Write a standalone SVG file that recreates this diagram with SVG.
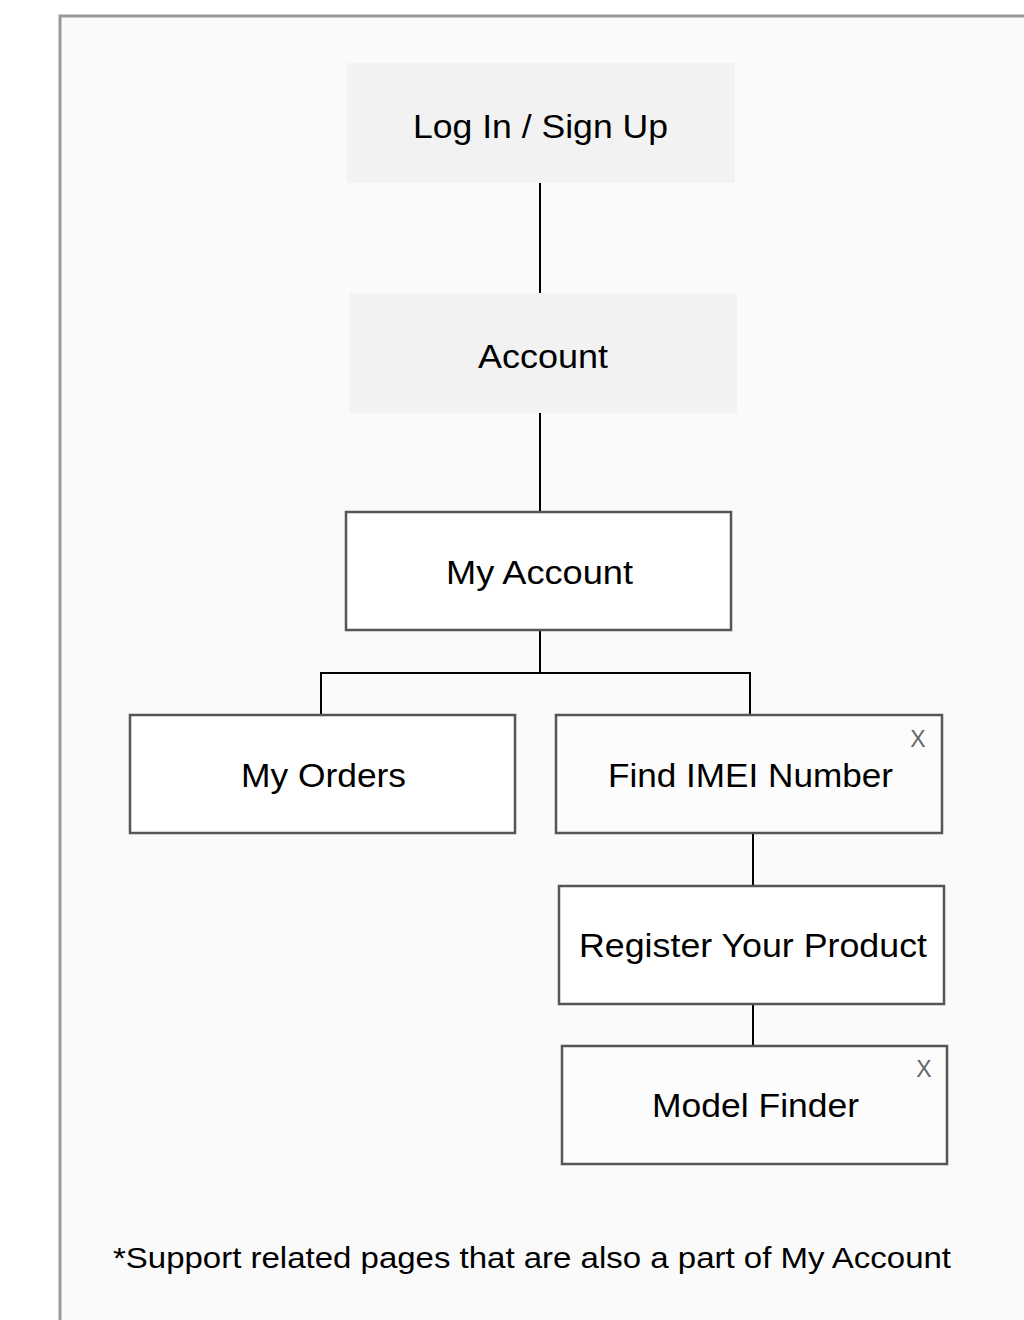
<svg xmlns="http://www.w3.org/2000/svg" width="1024" height="1320" viewBox="0 0 1024 1320">
<style>
text{font-family:"Liberation Sans",Arial,Helvetica,sans-serif;fill:#000}
.lbl{font-size:34px;text-anchor:middle}
.x{font-size:23px;fill:#666;text-anchor:middle}
.grey{fill:#f2f2f2;stroke:none}
.box{fill:#fff;stroke:#555;stroke-width:2.5}
.wire{stroke:#000;stroke-width:2;fill:none}
</style>
<rect width="1024" height="1320" fill="#fff"/>
<rect x="60" y="16" width="1000" height="1340" fill="#fafafa" stroke="#999" stroke-width="3"/>
<g id="connectors">
<line class="wire" x1="540" y1="183" x2="540" y2="293"/>
<line class="wire" x1="540" y1="413" x2="540" y2="512"/>
<path class="wire" d="M540 630 V673 M321 715 V673 H750 V715"/>
<line class="wire" x1="753" y1="833" x2="753" y2="886"/>
<line class="wire" x1="753" y1="1004" x2="753" y2="1046"/>
</g>
<g id="login"><rect class="grey" x="347" y="63" width="388" height="120"/><text class="lbl" x="540.5" y="138" textLength="255" lengthAdjust="spacingAndGlyphs">Log In / Sign Up</text></g>
<g id="account"><rect class="grey" x="350" y="293" width="387" height="120"/><text class="lbl" x="543" y="368" textLength="130" lengthAdjust="spacingAndGlyphs">Account</text></g>
<g id="myaccount"><rect class="box" x="346" y="512" width="385" height="118"/><text class="lbl" x="539.5" y="584" textLength="187" lengthAdjust="spacingAndGlyphs">My Account</text></g>
<g id="myorders"><rect class="box" x="130" y="715" width="385" height="118"/><text class="lbl" x="323.5" y="787" textLength="165" lengthAdjust="spacingAndGlyphs">My Orders</text></g>
<g id="findimei"><rect class="box" x="556" y="715" width="386" height="118" style="fill:#fcfcfc"/><text class="lbl" x="750.5" y="787" textLength="285" lengthAdjust="spacingAndGlyphs">Find IMEI Number</text><text class="x" x="918" y="747">X</text></g>
<g id="register"><rect class="box" x="559" y="886" width="385" height="118"/><text class="lbl" x="753" y="957" textLength="348" lengthAdjust="spacingAndGlyphs">Register Your Product</text></g>
<g id="modelfinder"><rect class="box" x="562" y="1046" width="385" height="118" style="fill:#fcfcfc"/><text class="lbl" x="755.5" y="1117" textLength="207" lengthAdjust="spacingAndGlyphs">Model Finder</text><text class="x" x="924" y="1077">X</text></g>
<text x="113" y="1268" font-size="30" textLength="838" lengthAdjust="spacingAndGlyphs">*Support related pages that are also a part of My Account</text>
</svg>
